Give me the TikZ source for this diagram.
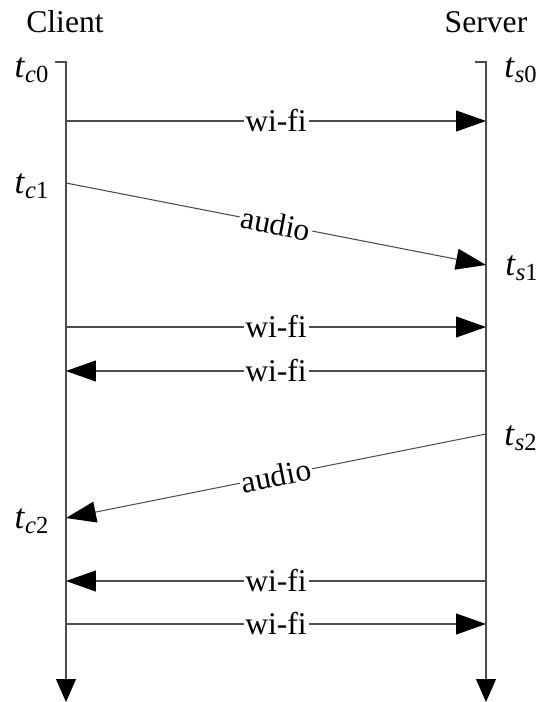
\documentclass[tikz,border=0pt]{standalone}
\usepackage{fontspec}
\setmainfont{Liberation Serif}
\usepackage{tikz}
\usetikzlibrary{arrows.meta}

\newcommand{\tlab}[2]{\textit{t}\textsubscript{\textit{#1}#2}}

\begin{document}
\begin{tikzpicture}[
  x=0.02cm, y=-0.02cm,
  every node/.style={font=\fontsize{18}{20}\selectfont, inner sep=1pt},
  stamp/.style={font=\fontsize{20}{22}\selectfont},
  life/.style={draw=black!70, line width=0.6pt, -{Triangle[length=0.46cm,width=0.4cm,color=black]}},
  msg/.style={draw=black!70, line width=0.6pt, -{Triangle[length=0.6cm,width=0.42cm,color=black]}},
  tag/.style={fill=white, inner sep=1pt}
]
  \useasboundingbox (0,0) rectangle (538,702);

  \node (client) at (65,22) {Client};
  \node (server) at (486,22) {Server};

  % lifelines
  \coordinate (ctick) at (55,62);
  \coordinate (ctop) at (66,62);
  \coordinate (cbot) at (66,702);
  \coordinate (stick) at (475,62);
  \coordinate (stop) at (486,62);
  \coordinate (sbot) at (486,702);
  \draw[life] (ctick) -- (ctop) -- (cbot);
  \draw[life] (stick) -- (stop) -- (sbot);

  % message end points
  \coordinate (cw1) at (66,121);  \coordinate (sw1) at (486,121);
  \coordinate (c1)  at (66,183);  \coordinate (s1)  at (486,265);
  \coordinate (cw2) at (66,327);  \coordinate (sw2) at (486,327);
  \coordinate (cw3) at (66,371);  \coordinate (sw3) at (486,371);
  \coordinate (s2)  at (486,434); \coordinate (c2)  at (66,518);
  \coordinate (cw4) at (66,581);  \coordinate (sw4) at (486,581);
  \coordinate (cw5) at (66,624);  \coordinate (sw5) at (486,624);

  \draw[msg] (cw1) -- node[tag] {wi-fi} (sw1);
  \draw[msg] (c1) -- node[tag,sloped] {audio} (s1);
  \draw[msg] (cw2) -- node[tag] {wi-fi} (sw2);
  \draw[msg] (sw3) -- node[tag] {wi-fi} (cw3);
  \draw[msg] (s2) -- node[tag,sloped] {audio} (c2);
  \draw[msg] (sw4) -- node[tag] {wi-fi} (cw4);
  \draw[msg] (cw5) -- node[tag] {wi-fi} (sw5);

  % time stamps
  \node[stamp] (tc0) at (32,70)  {\tlab{c}{0}};
  \node[stamp] (ts0) at (521,70) {\tlab{s}{0}};
  \node[stamp] (tc1) at (32,186) {\tlab{c}{1}};
  \node[stamp] (ts1) at (522,268) {\tlab{s}{1}};
  \node[stamp] (ts2) at (521,438) {\tlab{s}{2}};
  \node[stamp] (tc2) at (32,521) {\tlab{c}{2}};
\end{tikzpicture}
\end{document}
